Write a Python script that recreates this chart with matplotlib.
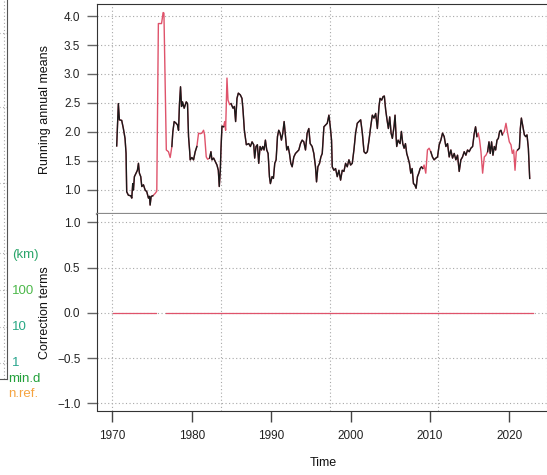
#!/usr/bin/env python3
"""Running annual means with correction terms, two stacked panels."""

import matplotlib as mpl

mpl.use("Agg")

import matplotlib.pyplot as plt
import numpy as np

plt.rcParams["font.family"] = ["Liberation Sans", "DejaVu Sans"]

W, H = 547, 475

years = [
    1970.55, 1970.64, 1970.76, 1970.89, 1971.18, 1971.39, 1971.60, 1971.73, 1971.81, 1972.02,
    1972.32, 1972.45, 1972.57, 1972.66, 1972.78, 1972.99, 1973.16, 1973.29, 1973.41, 1973.58,
    1973.71, 1973.92, 1974.13, 1974.34, 1974.55, 1974.68, 1974.76, 1974.89, 1975.10, 1975.39,
    1975.60, 1975.80, 1976.20, 1976.40, 1976.50, 1976.80, 1977.07, 1977.29, 1977.50, 1977.62,
    1977.79, 1978.04, 1978.21, 1978.34, 1978.46, 1978.59, 1978.72, 1978.84, 1979.05, 1979.31,
    1979.47, 1979.60, 1979.73, 1979.81, 1980.02, 1980.23, 1980.44, 1980.65, 1980.86, 1981.07,
    1981.28, 1981.49, 1981.62, 1981.83, 1982.00, 1982.25, 1982.42, 1982.55, 1982.76, 1982.97,
    1983.18, 1983.35, 1983.47, 1983.60, 1983.68, 1983.81, 1984.02, 1984.15, 1984.27, 1984.44,
    1984.57, 1984.78, 1984.95, 1985.20, 1985.37, 1985.53, 1985.70, 1985.87, 1986.12, 1986.33,
    1986.46, 1986.63, 1986.88, 1987.18, 1987.39, 1987.60, 1987.81, 1987.93, 1988.10, 1988.27,
    1988.44, 1988.61, 1988.78, 1988.94, 1989.11, 1989.28, 1989.45, 1989.62, 1989.79, 1989.91,
    1990.12, 1990.29, 1990.46, 1990.63, 1990.80, 1990.96, 1991.13, 1991.30, 1991.47, 1991.64,
    1991.81, 1991.97, 1992.14, 1992.31, 1992.48, 1992.65, 1992.86, 1993.07, 1993.28, 1993.49,
    1993.70, 1993.91, 1994.12, 1994.33, 1994.54, 1994.75, 1994.92, 1995.17, 1995.38, 1995.59,
    1995.72, 1995.89, 1996.10, 1996.27, 1996.44, 1996.65, 1996.86, 1997.07, 1997.28, 1997.45,
    1997.61, 1997.70, 1997.91, 1998.12, 1998.33, 1998.54, 1998.75, 1998.96, 1999.17, 1999.38,
    1999.59, 1999.80, 2000.01, 2000.22, 2000.43, 2000.64, 2000.85, 2001.06, 2001.28, 2001.49,
    2001.70, 2001.91, 2002.12, 2002.33, 2002.54, 2002.75, 2002.96, 2003.17, 2003.38, 2003.59,
    2003.72, 2003.93, 2004.10, 2004.26, 2004.43, 2004.60, 2004.77, 2004.94, 2005.11, 2005.27,
    2005.48, 2005.61, 2005.74, 2005.82, 2005.99, 2006.24, 2006.41, 2006.58, 2006.75, 2006.92,
    2007.08, 2007.25, 2007.42, 2007.59, 2007.76, 2007.93, 2008.09, 2008.26, 2008.43, 2008.60,
    2008.77, 2008.94, 2009.10, 2009.27, 2009.48, 2009.69, 2009.90, 2010.11, 2010.32, 2010.53,
    2010.75, 2010.96, 2011.17, 2011.38, 2011.59, 2011.80, 2012.01, 2012.22, 2012.43, 2012.64,
    2012.85, 2013.06, 2013.27, 2013.48, 2013.69, 2013.90, 2014.11, 2014.32, 2014.53, 2014.74,
    2014.95, 2015.16, 2015.38, 2015.59, 2015.75, 2015.92, 2016.09, 2016.26, 2016.43, 2016.64,
    2016.85, 2017.06, 2017.27, 2017.44, 2017.60, 2017.77, 2017.94, 2018.11, 2018.28, 2018.45,
    2018.62, 2018.78, 2018.95, 2019.12, 2019.37, 2019.58, 2019.79, 2020.00, 2020.21, 2020.38,
    2020.55, 2020.72, 2020.88, 2021.05, 2021.27, 2021.39, 2021.52, 2021.68, 2021.90, 2022.07,
    2022.23, 2022.40, 2022.57,
]
running_means = [
    1.76, 2.09, 2.49, 2.21, 2.20, 2.06, 1.89, 1.63, 0.97, 0.91,
    0.90, 0.86, 1.11, 1.00, 1.23, 1.29, 1.34, 1.46, 1.29, 1.23,
    1.06, 1.09, 1.00, 0.97, 0.86, 0.89, 0.74, 0.89, 0.90, 0.94,
    0.98, 3.87, 3.87, 4.06, 4.05, 1.69, 1.66, 1.56, 1.75, 2.00,
    2.18, 2.15, 2.12, 2.03, 2.49, 2.78, 2.44, 2.52, 2.41, 2.52,
    2.49, 1.92, 1.69, 1.52, 1.56, 1.52, 1.66, 1.75, 1.98, 1.97,
    1.98, 2.03, 1.95, 1.57, 1.53, 1.55, 1.66, 1.52, 1.55, 1.49,
    1.43, 1.34, 1.06, 1.34, 1.69, 2.10, 2.09, 2.18, 2.03, 2.93,
    2.55, 2.47, 2.49, 2.41, 2.44, 2.18, 2.58, 2.67, 2.64, 2.58,
    2.38, 2.03, 1.78, 1.80, 1.75, 1.83, 1.78, 1.55, 1.75, 1.78,
    1.46, 1.75, 1.69, 1.75, 1.69, 1.86, 1.69, 1.63, 1.23, 1.11,
    1.23, 1.20, 1.46, 1.52, 1.92, 2.03, 1.98, 1.86, 1.98, 2.18,
    1.92, 1.69, 1.75, 1.63, 1.46, 1.40, 1.57, 1.63, 1.66, 1.69,
    1.80, 1.86, 1.83, 1.69, 1.98, 2.06, 1.80, 1.75, 1.63, 1.40,
    1.14, 1.40, 1.46, 1.57, 1.63, 2.09, 2.12, 2.15, 2.29, 2.09,
    1.86, 1.40, 1.34, 1.37, 1.23, 1.34, 1.17, 1.34, 1.32, 1.46,
    1.40, 1.52, 1.43, 1.46, 1.69, 1.98, 2.15, 2.18, 2.21, 1.98,
    1.66, 1.63, 1.66, 1.86, 2.09, 2.29, 2.24, 2.32, 2.06, 2.44,
    2.58, 2.55, 2.61, 2.62, 2.38, 2.21, 2.06, 2.26, 1.98, 1.89,
    2.09, 2.29, 1.92, 1.75, 1.86, 1.80, 2.01, 1.80, 1.72, 1.80,
    1.63, 1.55, 1.46, 1.29, 1.37, 1.11, 1.09, 1.03, 1.23, 1.29,
    1.37, 1.40, 1.37, 1.43, 1.29, 1.69, 1.72, 1.66, 1.57, 1.52,
    1.55, 1.57, 1.78, 1.86, 1.98, 1.92, 1.75, 1.80, 1.57, 1.69,
    1.55, 1.63, 1.52, 1.60, 1.32, 1.52, 1.57, 1.66, 1.60, 1.69,
    1.66, 1.72, 1.75, 1.98, 2.09, 1.92, 1.98, 1.86, 1.66, 1.29,
    1.57, 1.60, 1.66, 1.83, 1.63, 1.83, 1.60, 1.75, 1.69, 1.86,
    1.89, 2.01, 2.03, 1.95, 2.01, 2.15, 1.98, 1.83, 1.78, 1.63,
    1.69, 1.34, 1.66, 1.69, 1.72, 2.06, 2.24, 2.12, 1.95, 1.92,
    1.95, 1.72, 1.20,
]
# stretches drawn only in red (filled values)
filled_spans = [
    (1975.2, 1977.45),
    (1980.8, 1982.1),
    (1984.1, 1984.9),
    (2009.2, 2010.05),
    (2016.0, 2017.2),
    (2019.25, 2020.95),
]

correction_years = [1970.1, 1975.5, 1975.6, 1976.8, 2022.95]
correction_values = [0.0, 0.0, np.nan, 0.0, 0.0]

top_yticks = [1.0, 1.5, 2.0, 2.5, 3.0, 3.5, 4.0]
bottom_yticks = [-1.0, -0.5, 0.0, 0.5, 1.0]
xticks = [1970, 1980, 1990, 2000, 2010, 2020]
xgrid = [1970.0, 1983.7, 1997.4, 2011.0, 2024.7]

# remnants of the neighbouring panel on the left edge
side_rows = [33, 107, 183, 253, 290, 327, 363]
side_labels = [
    ("(km)", 255, "#2aa56a"),
    ("100", 291, "#4cb84a"),
    ("10", 327, "#28a884"),
    ("1", 363, "#27a48c"),
]

RED = "#df536b"
INK = "#1a1a1a"
GRID = "#a8a8a8"
SPINE = "#333333"
FS = 8.5


def px_box(x0, y0, x1, y1):
    """Pixel box (top-left origin) -> figure fraction rect."""
    return [x0 / W, 1 - y1 / H, (x1 - x0) / W, (y1 - y0) / H]


def style_axes(ax, ylim, yticks):
    ax.set_xlim(1968.07, 2025.0)
    ax.set_ylim(*ylim)
    ax.set_yticks(yticks)
    ax.set_yticklabels([f"{v:.1f}".replace("-", "\u2212") for v in yticks])
    for v in yticks:
        ax.axhline(v, color=GRID, lw=0.8, ls=(0, (1, 2.2)), zorder=0)
    for v in xgrid:
        ax.axvline(v, color=GRID, lw=0.8, ls=(0, (1, 2.2)), zorder=0)
    ax.tick_params(axis="y", direction="out", length=7, width=1.0, color="#666666",
                   pad=5, labelsize=FS, labelcolor="#222222")
    ax.spines["right"].set_visible(False)
    ax.spines["left"].set_color(SPINE)


fig = plt.figure(figsize=(W / 100, H / 100), dpi=100)

ax_top = fig.add_axes(px_box(97, 4, 549, 214))
ax_bot = fig.add_axes(px_box(97, 214, 549, 410.5))

t = np.asarray(years)
y = np.asarray(running_means)
observed = y.copy()
for lo, hi in filled_spans:
    observed[(t > lo) & (t < hi)] = np.nan

style_axes(ax_top, (0.586, 4.207), top_yticks)
ax_top.plot(t, y, color=RED, lw=1.0, zorder=2)
ax_top.plot(t, observed, color=INK, lw=1.0, zorder=3)
ax_top.tick_params(axis="x", bottom=False, labelbottom=False)
ax_top.spines["top"].set_color(SPINE)
ax_top.spines["bottom"].set_color("#8a8a8a")
ax_top.spines["bottom"].set_linewidth(1.6)
ax_top.set_ylabel("Running annual means", fontsize=9, color="#111111")
ax_top.yaxis.set_label_coords(-0.102, 0.5)

style_axes(ax_bot, (-1.08, 1.092), bottom_yticks)
ax_bot.plot(correction_years, correction_values, color=RED, lw=0.9, zorder=2)
ax_bot.spines["top"].set_visible(False)
ax_bot.spines["bottom"].set_color(SPINE)
ax_bot.set_xticks(xticks)
ax_bot.set_xticklabels([str(v) for v in xticks])
ax_bot.tick_params(axis="x", direction="out", length=8, width=1.0, color="#444444",
                   pad=6, labelsize=FS, labelcolor="#222222")
ax_bot.set_ylabel("Correction terms", fontsize=9, color="#111111")
ax_bot.yaxis.set_label_coords(-0.102, 0.5)
ax_bot.set_xlabel("Time", fontsize=9, color="#111111")
ax_bot.xaxis.set_label_coords(0.5, -0.237)

# neighbouring panel stub
ax_side = fig.add_axes(px_box(-10, -5, 7, 379))
ax_side.set_xlim(-10, 7)
ax_side.set_ylim(379, -5)
ax_side.set_xticks([4])
ax_side.set_yticks(side_rows)
ax_side.tick_params(length=0, labelleft=False, labelbottom=False)
ax_side.grid(True, color=GRID, lw=0.8, ls=(0, (1, 2.2)))
ax_side.patch.set_alpha(0)
for name in ("top", "left"):
    ax_side.spines[name].set_visible(False)
for name in ("right", "bottom"):
    ax_side.spines[name].set_color("#555555")

for text, row, color in side_labels:
    fig.text(12 / W, 1 - row / H, text, color=color, fontsize=9.5, va="center", ha="left")
fig.text(8 / W, 1 - 379 / H, "min.d", color="#22a03a", fontsize=9.5, va="center", ha="left")
fig.text(8 / W, 1 - 394 / H, "n.ref.", color="#f5a340", fontsize=9.5, va="center", ha="left")

fig.savefig("out.png", dpi=100)
plt.close(fig)
